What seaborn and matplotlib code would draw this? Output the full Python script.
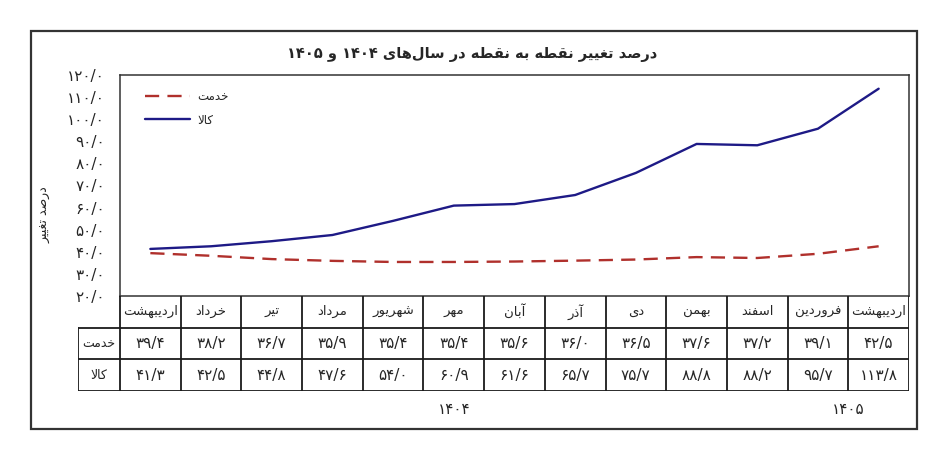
import numpy as np
import pandas as pd
import matplotlib
matplotlib.use("Agg")
import matplotlib.pyplot as plt
from matplotlib.patches import Rectangle
import seaborn as sns

# data
months = ["اردیبهشت", "خرداد", "تیر", "مرداد", "شهریور", "مهر", "آبان",
          "آذر", "دی", "بهمن", "اسفند", "فروردین", "اردیبهشت"]
years = [1404] * 11 + [1405] * 2
khedmat = [39.4, 38.2, 36.7, 35.9, 35.4, 35.4, 35.6, 36.0, 36.5, 37.6, 37.2, 39.1, 42.5]
kala = [41.3, 42.5, 44.8, 47.6, 54.0, 60.9, 61.6, 65.7, 75.7, 88.8, 88.2, 95.7, 113.8]
series_names = ["خدمت", "کالا"]
title = "درصد تغییر نقطه به نقطه در سال‌های ۱۴۰۴ و ۱۴۰۵"
ylabel = "درصد تغییر"
yticks = list(range(20, 130, 10))

colors = {"خدمت": "#B0302C", "کالا": "#1E1A86"}

# matplotlib 3.10 has no Arabic shaping, so map letters to presentation forms
FORMS = {
    "ا": ("\uFE8D", "\uFE8E", None, None),
    "آ": ("\uFE81", "\uFE82", None, None),
    "ب": ("\uFE8F", "\uFE90", "\uFE91", "\uFE92"),
    "ت": ("\uFE95", "\uFE96", "\uFE97", "\uFE98"),
    "خ": ("\uFEA5", "\uFEA6", "\uFEA7", "\uFEA8"),
    "د": ("\uFEA9", "\uFEAA", None, None),
    "ذ": ("\uFEAB", "\uFEAC", None, None),
    "ر": ("\uFEAD", "\uFEAE", None, None),
    "س": ("\uFEB1", "\uFEB2", "\uFEB3", "\uFEB4"),
    "ش": ("\uFEB5", "\uFEB6", "\uFEB7", "\uFEB8"),
    "ص": ("\uFEB9", "\uFEBA", "\uFEBB", "\uFEBC"),
    "ط": ("\uFEC1", "\uFEC2", "\uFEC3", "\uFEC4"),
    "غ": ("\uFECD", "\uFECE", "\uFECF", "\uFED0"),
    "ف": ("\uFED1", "\uFED2", "\uFED3", "\uFED4"),
    "ق": ("\uFED5", "\uFED6", "\uFED7", "\uFED8"),
    "ک": ("\uFB8E", "\uFB8F", "\uFB90", "\uFB91"),
    "ل": ("\uFEDD", "\uFEDE", "\uFEDF", "\uFEE0"),
    "م": ("\uFEE1", "\uFEE2", "\uFEE3", "\uFEE4"),
    "ن": ("\uFEE5", "\uFEE6", "\uFEE7", "\uFEE8"),
    "و": ("\uFEED", "\uFEEE", None, None),
    "ه": ("\uFEE9", "\uFEEA", "\uFEEB", "\uFEEC"),
    "ی": ("\uFBFC", "\uFBFD", "\uFBFE", "\uFBFF"),
}
LAM_ALEF = {"ا": ("\uFEFB", "\uFEFC"), "آ": ("\uFEF5", "\uFEF6")}
DIGITS = set("0123456789۰۱۲۳۴۵۶۷۸۹")


def shape(text):
    chars = list(text)
    out = []
    i = 0
    while i < len(chars):
        c = chars[i]
        if c not in FORMS:
            if c != "\u200c":
                out.append(c)
            i += 1
            continue
        prev = chars[i - 1] if i > 0 else None
        nxt = chars[i + 1] if i + 1 < len(chars) else None
        link_prev = prev in FORMS and FORMS[prev][2] is not None
        if c == "ل" and nxt in LAM_ALEF:
            out.append(LAM_ALEF[nxt][1 if link_prev else 0])
            i += 2
            continue
        link_next = FORMS[c][2] is not None and nxt in FORMS
        if link_prev and link_next:
            out.append(FORMS[c][3])
        elif link_prev:
            out.append(FORMS[c][1])
        elif link_next:
            out.append(FORMS[c][2])
        else:
            out.append(FORMS[c][0])
        i += 1
    # right-to-left: reverse, but keep digit runs left-to-right
    out = out[::-1]
    res, run = [], []
    for c in out:
        if c in DIGITS:
            run.append(c)
        else:
            res.extend(run[::-1])
            run = []
            res.append(c)
    res.extend(run[::-1])
    return "".join(res)


def fa_num(s):
    return s.translate(str.maketrans("0123456789.", "۰۱۲۳۴۵۶۷۸۹/"))


df = pd.DataFrame({
    "idx": list(range(len(months))) * 2,
    "value": khedmat + kala,
    "series": [series_names[0]] * len(months) + [series_names[1]] * len(months),
})

sns.set_style("white")
plt.rcParams["font.family"] = ["DejaVu Sans"]

W, H = 942, 459
fig = plt.figure(figsize=(W / 100, H / 100), dpi=100)

# pixel layout
px_left, px_right, px_top, px_bot = 120, 909, 75, 296
tab_left, tab_bot = 78, 391
ax = fig.add_axes([px_left / W, 1 - px_bot / H, (px_right - px_left) / W, (px_bot - px_top) / H])

sns.lineplot(data=df, x="idx", y="value", hue="series", style="series",
             hue_order=series_names, style_order=series_names,
             palette=colors, dashes={"خدمت": (6, 3.5), "کالا": ""},
             linewidth=1.7, ax=ax)

n = len(months)
ax.set_xlim(-0.5, n - 0.5)
ax.set_ylim(yticks[0], yticks[-1])
ax.set_xticks([])
ax.set_yticks(yticks)
ax.set_yticklabels([fa_num(f"{t:.1f}") for t in yticks], fontsize=11)
ax.tick_params(axis="y", length=0, pad=11)
ax.set_xlabel("")
ax.set_ylabel("")
for sp in ax.spines.values():
    sp.set_color("#333333")
    sp.set_linewidth(1.1)

handles, labels = ax.get_legend_handles_labels()
ax.legend(handles, [shape(l) for l in labels], loc="upper left",
          bbox_to_anchor=(0.032, 0.93), frameon=False, fontsize=8.5,
          handlelength=3.8, labelspacing=0.85, borderpad=0, borderaxespad=0,
          handletextpad=0.6)

fig.text(472 / W, 1 - 55 / H, shape(title), ha="center", va="center",
         fontsize=10.5, fontweight="bold")
fig.text(45 / W, 1 - 215 / H, shape(ylabel), ha="center", va="center",
         rotation=90, fontsize=9)

# data table under the plot, same x scale
unit = (px_right - px_left) / n
lab_x = -0.5 - (px_left - tab_left) / unit
tax = fig.add_axes([tab_left / W, 1 - tab_bot / H, (px_right - tab_left) / W, (tab_bot - px_bot) / H])
tax.set_xlim(lab_x, n - 0.5)
tax.set_ylim(0, 3)
tax.axis("off")
lc, lw = "#1a1a1a", 1.3
for k in range(n + 1):
    tax.plot([k - 0.5, k - 0.5], [0, 3], color=lc, lw=lw, solid_capstyle="butt")
tax.plot([lab_x, lab_x], [0, 2], color=lc, lw=lw)
for yy in (0, 1, 2):
    tax.plot([lab_x, n - 0.5], [yy, yy], color=lc, lw=lw)

for i, m in enumerate(months):
    tax.text(i, 2.5, shape(m), ha="center", va="center", fontsize=9.5)
    tax.text(i, 1.5, fa_num(f"{khedmat[i]:.1f}"), ha="center", va="center", fontsize=11)
    tax.text(i, 0.5, fa_num(f"{kala[i]:.1f}"), ha="center", va="center", fontsize=11)
tax.text((lab_x - 0.5) / 2, 1.5, shape(series_names[0]), ha="center", va="center", fontsize=9)
tax.text((lab_x - 0.5) / 2, 0.5, shape(series_names[1]), ha="center", va="center", fontsize=9)

# year labels centred under their months
for yr in sorted(set(years)):
    pos = [i for i, y in enumerate(years) if y == yr]
    tax.text(np.mean(pos), -0.6, fa_num(str(yr)), ha="center", va="center",
             fontsize=11, clip_on=False)

fig.patches.append(Rectangle((31 / W, 1 - 429 / H), (917 - 31) / W, (429 - 31) / H,
                             transform=fig.transFigure, fill=False,
                             edgecolor="#333333", linewidth=1.6))

fig.savefig("out.png", dpi=100)
